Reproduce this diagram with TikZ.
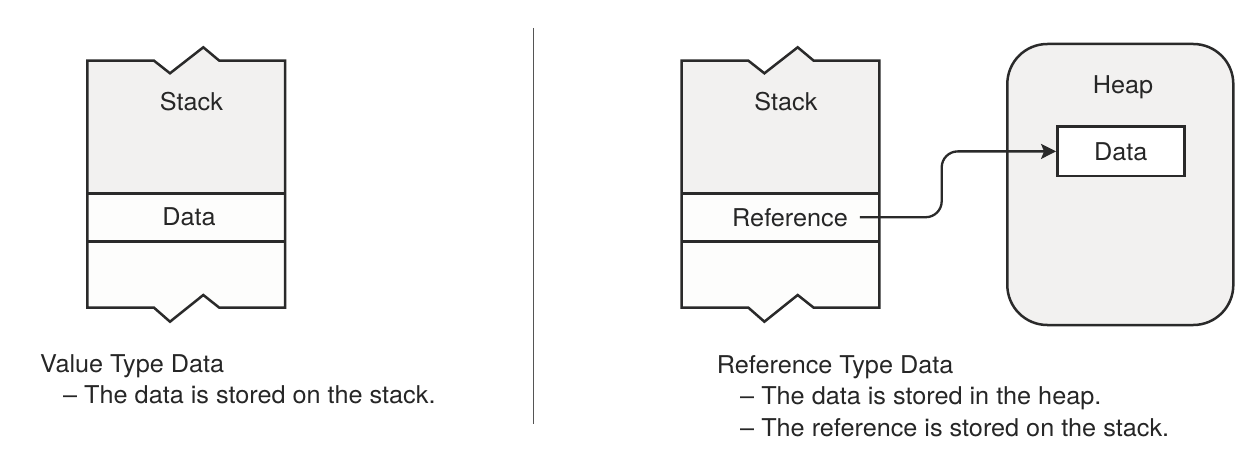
\documentclass[tikz,border=0pt]{standalone}
\usepackage{fontspec}
\setmainfont[FakeStretch=1.03]{TeX Gyre Heros}
\usetikzlibrary{arrows.meta}
\definecolor{ink}{HTML}{2A2A2A}
\definecolor{txt}{HTML}{262626}
\definecolor{panel}{HTML}{F2F1F0}
\definecolor{cell}{HTML}{FDFDFC}
\definecolor{rule}{HTML}{555555}
\newcommand{\drawmystack}[1]{%
  \begin{scope}[xshift=#1]
    \fill[panel] (87.3,60.7) -- (154,60.7) -- (170,73.3) -- (203.3,47.3) -- (219.3,60.7) -- (285,60.7) -- (285,193.3) -- (87.3,193.3) -- cycle;
    \fill[cell] (87.3,193.3) -- (285,193.3) -- (285,307.7) -- (219.3,307.7) -- (203.3,295) -- (170,321.7) -- (154,307.7) -- (87.3,307.7) -- cycle;
    \draw[box] (87.3,60.7) -- (154,60.7) -- (170,73.3) -- (203.3,47.3) -- (219.3,60.7) -- (285,60.7) -- (285,307.7) -- (219.3,307.7) -- (203.3,295) -- (170,321.7) -- (154,307.7) -- (87.3,307.7) -- cycle;
    \draw[box] (87.3,193.3) -- (285,193.3);
    \draw[box] (87.3,241.7) -- (285,241.7);
  \end{scope}}
\begin{document}
\begin{tikzpicture}[x=1pt,y=-1pt,
  box/.style={draw=ink, line width=2.5pt, line join=miter},
  lbl/.style={text=txt, font=\fontsize{24.5}{29}\selectfont, inner sep=0pt},
  link/.style={draw=ink, line width=2.3pt, rounded corners=16pt, -{Stealth[length=15pt,width=15pt,inset=3pt]}}]
\useasboundingbox[fill=white] (0,0) rectangle (1258,468);

% left stack
\drawmystack{0}
\node[lbl, anchor=base] (lstack) at (191.5,110.7) {Stack};
\node[lbl, anchor=base] (ldata) at (189,225.7) {Data};

% divider
\draw[rule, line width=1.3pt] (533.3,28) -- (533.3,424);

% right stack
\drawmystack{594.4}
\node[lbl, anchor=base] (rstack) at (786,110.7) {Stack};
\node[lbl, anchor=base, inner xsep=12pt] (ref) at (790,226) {Reference};

% heap
\node[box, fill=panel, rounded corners=40pt, minimum width=226pt, minimum height=281pt, inner sep=0pt] (heap) at (1120.3,184.5) {};
\node[lbl, anchor=base] (heaplbl) at (1123,94) {Heap};
\node[box, fill=white, lbl, draw=ink, minimum width=127pt, minimum height=49.3pt] (hdata) at (1120.8,151.4) {Data};

% connector
\coordinate (bend) at (941.7,185);
\draw[link] (ref.east) -| (bend) |- (hdata.west);

% captions
\node[lbl, anchor=base west] (vt) at (40,372) {Value Type Data};
\node[lbl, anchor=base west] (vt1) at (63,403.5) {– The data is stored on the stack.};
\node[lbl, anchor=base west] (rt) at (716.7,373) {Reference Type Data};
\node[lbl, anchor=base west] (rt1) at (740,404.5) {– The data is stored in the heap.};
\node[lbl, anchor=base west] (rt2) at (740,436) {– The reference is stored on the stack.};
\end{tikzpicture}
\end{document}
